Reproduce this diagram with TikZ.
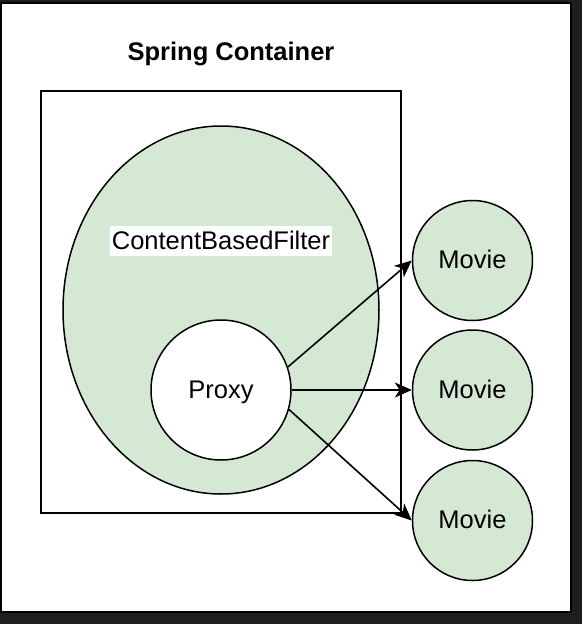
\documentclass[tikz,border=0pt]{standalone}
\usepackage{fontspec}
\setmainfont{Liberation Sans}
\usepackage{xcolor}
\usepackage{tikz}
\usetikzlibrary{shapes.geometric, arrows.meta, positioning}
\definecolor{beangreen}{HTML}{D5E8D4}
\definecolor{framegray}{HTML}{1E1E1E}
\tikzstyle{container} = [rectangle, draw, line width=2pt, inner sep=0pt]
\tikzstyle{filterbean} = [ellipse, draw, fill=beangreen, line width=1.5pt,
                          inner sep=0pt, minimum width=316pt, minimum height=368pt]
\tikzstyle{proxybean} = [circle, draw, fill=white, line width=1.5pt,
                         inner sep=0pt, minimum size=140pt]
\tikzstyle{moviebean} = [circle, draw, fill=beangreen, line width=1.5pt,
                         inner sep=0pt, minimum size=120pt]
\tikzstyle{arrow} = [line width=1.6pt,
                     -{Stealth[length=17pt, width=15pt, inset=5pt]}]
\tikzstyle{label} = [fill=white, inner xsep=1.5pt, inner ysep=2.6pt]

\begin{document}
\begin{tikzpicture}[x=1pt, y=-1pt, font=\fontsize{25.5}{30}\selectfont,
	text height=20.4pt, text depth=4.3pt]
\useasboundingbox (0,0) rectangle (582,624);
\fill [framegray] (0,0) rectangle (582,624);
\draw [fill=white, line width=2pt] (1,3) rectangle (571,612);
\node [container, minimum width=360pt, minimum height=422pt] at (221,302)
	(spring) {};
\node [font=\fontsize{25.5}{30}\selectfont\bfseries] at (231,52) (title)
	{Spring Container};
\node [filterbean] at (221,310) (filter) {};
\node [label] at (221,241) (filter_name) {ContentBasedFilter};
\node [proxybean] at (221,390) (proxy) {Proxy};
\node [moviebean, right=120pt of proxy] (movie_b) {Movie};
\node [moviebean, above=8pt of movie_b] (movie_a) {Movie};
\node [moviebean, below=9pt of movie_b] (movie_c) {Movie};
\draw [arrow] (proxy.19) -- (movie_a.west);
\draw [arrow] (proxy.east) -- (movie_b.west);
\draw [arrow] (proxy.-16) -- (movie_c.west);
\end{tikzpicture}
\end{document}
